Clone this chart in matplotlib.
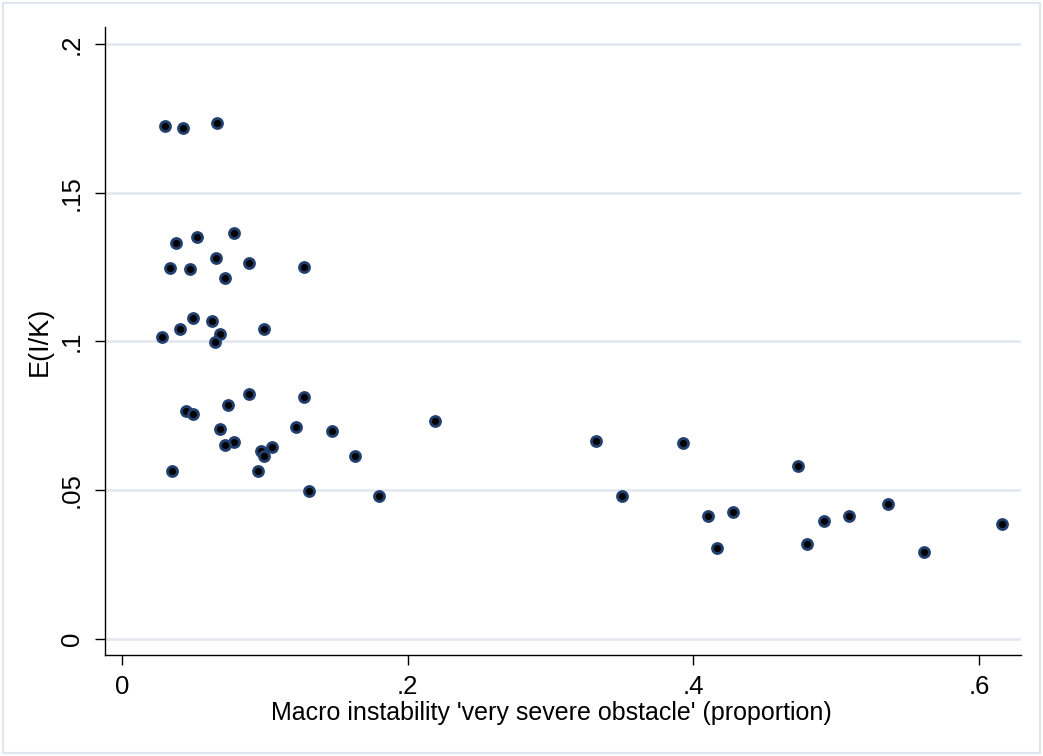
import matplotlib
matplotlib.use("Agg")
import matplotlib.pyplot as plt
from matplotlib.patches import Rectangle

# share of firms citing macro instability as a very severe obstacle
macro_share = [0.0303, 0.0427, 0.0663, 0.0376, 0.0523, 0.0785, 0.0656, 0.0892,
               0.0336, 0.0478, 0.0722, 0.1275, 0.0495, 0.0628, 0.0406, 0.0997,
               0.0687, 0.0282, 0.0654, 0.0892, 0.1273, 0.0745, 0.0450, 0.0497,
               0.1217, 0.1473, 0.0689, 0.0787, 0.0724, 0.1051, 0.0972, 0.0997,
               0.1634, 0.0350, 0.0955, 0.1308, 0.1802, 0.2195, 0.3320, 0.3498,
               0.3925, 0.4105, 0.4166, 0.4276, 0.4733, 0.4799, 0.4918, 0.5091,
               0.5361, 0.5613, 0.6165]
# expected investment rate E(I/K)
inv_rate = [0.1725, 0.1716, 0.1734, 0.1332, 0.1352, 0.1365, 0.1281, 0.1264,
            0.1246, 0.1243, 0.1214, 0.1250, 0.1078, 0.1069, 0.1042, 0.1040,
            0.1024, 0.1014, 0.0998, 0.0824, 0.0813, 0.0786, 0.0767, 0.0754,
            0.0713, 0.0699, 0.0705, 0.0661, 0.0650, 0.0645, 0.0632, 0.0614,
            0.0615, 0.0565, 0.0565, 0.0497, 0.0481, 0.0732, 0.0665, 0.0480,
            0.0657, 0.0413, 0.0306, 0.0427, 0.0582, 0.0318, 0.0397, 0.0413,
            0.0453, 0.0292, 0.0386]

x_ticks = [0, 0.2, 0.4, 0.6]
x_tick_labels = ['0', '.2', '.4', '.6']
y_ticks = [0, 0.05, 0.1, 0.15, 0.2]
y_tick_labels = ['0', '.05', '.1', '.15', '.2']

plt.rcParams['font.family'] = ['Liberation Sans', 'DejaVu Sans']

fig = plt.figure(figsize=(10.43, 7.56), dpi=100)
ax = fig.add_axes([0.101, 0.1336, 0.878, 0.8303])

# light frame around the whole graph
fig.patches.append(Rectangle((0.003, 0.004), 0.994, 0.992, transform=fig.transFigure,
                             fill=False, edgecolor='#dfe6ef', linewidth=1.5))

ax.plot(macro_share, inv_rate, linestyle='none', marker='o', markersize=7.2,
        markerfacecolor='black', markeredgecolor='#22406f', markeredgewidth=2.0,
        zorder=3)

ax.set_xlim(-0.0117, 0.6296)
ax.set_ylim(-0.0055, 0.2056)
ax.set_xticks(x_ticks)
ax.set_xticklabels(x_tick_labels)
ax.set_yticks(y_ticks)
ax.set_yticklabels(y_tick_labels, rotation=90, va='center')

ax.grid(axis='y', color='#e1e6f0', linewidth=1.8)
ax.set_axisbelow(True)
ax.spines['top'].set_visible(False)
ax.spines['right'].set_visible(False)
ax.spines['left'].set_linewidth(1.0)
ax.spines['bottom'].set_linewidth(1.0)

ax.tick_params(axis='both', length=7.5, width=1.0, labelsize=18.5, color='black')
ax.tick_params(axis='y', pad=8)
ax.tick_params(axis='x', pad=7)

ax.set_xlabel("Macro instability 'very severe obstacle' (proportion)", fontsize=18,
              labelpad=1)
ax.xaxis.set_label_coords(0.4867, -0.073)
ax.set_ylabel('E(I/K)', fontsize=19.5, labelpad=5)

fig.savefig('out.png', dpi=100, facecolor='white')
